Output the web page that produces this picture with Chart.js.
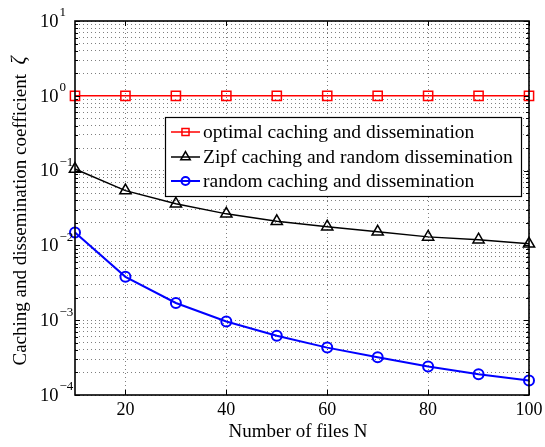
<!DOCTYPE html>
<html>
<head>
<meta charset="utf-8">
<script src="https://cdn.jsdelivr.net/npm/chart.js@4/dist/chart.umd.min.js"></script>
<style>
	html, body { margin: 0; padding: 0; background: #fff; }
	#wrap { width: 545px; height: 447px; position: relative; }
</style>
</head>
<body>
<div id="wrap"><canvas id="chart"></canvas></div>
<script>
// values
const fileCounts = [ 10, 20, 30, 40, 50, 60, 70, 80, 90, 100 ];
const optimalValues = [ 1, 1, 1, 1, 1, 1, 1, 1, 1, 1 ];
const zipfValues = [ 0.105, 0.054, 0.036, 0.0264, 0.021, 0.0178, 0.0152, 0.013, 0.0119, 0.0105 ];
const randomValues = [ 0.0149, 0.0038, 0.0017, 0.00096, 0.00062, 0.00043, 0.00032, 0.00024, 0.00019, 0.000156 ];
const xTickValues = [ 20, 40, 60, 80, 100 ];
const yDecades = [ -4, -3, -2, -1, 0, 1 ];
const seriesLabels = [
	'optimal caching and dissemination',
	'Zipf caching and random dissemination',
	'random caching and dissemination',
];
const xTitle = 'Number of files N';
const yTitle = 'Caching and dissemination coefficient';

const FONT = '"Liberation Serif", "Times New Roman", serif';

const toPoints = ( ys ) => fileCounts.map( ( x, i ) => ( { x, y: ys[ i ] } ) );

// every 1..9 x 10^n position, for the log grid
const yGridValues = [];
yDecades.forEach( ( d ) => {
	for ( let m = 1; m <= 9; m++ ) {
		const v = m * Math.pow( 10, d );
		if ( v <= Math.pow( 10, yDecades[ yDecades.length - 1 ] ) ) {
			yGridValues.push( v );
		}
	}
} );

const series = [
	{ label: seriesLabels[ 0 ], data: toPoints( optimalValues ), color: '#ff0000', style: 'rect', radius: 6.5, legendRadius: 5, width: 1.5 },
	{ label: seriesLabels[ 1 ], data: toPoints( zipfValues ), color: '#000000', style: 'triangle', radius: 6.5, legendRadius: 5.5, width: 1.5 },
	{ label: seriesLabels[ 2 ], data: toPoints( randomValues ), color: '#0000ff', style: 'circle', radius: 5, legendRadius: 4, width: 2 },
];

const axesPlugin = {
	id: 'matlabAxes',
	afterDatasetsDraw( chart ) {
		const { ctx, chartArea: a, scales } = chart;
		const xs = scales.x;
		const ys = scales.y;
		ctx.save();
		ctx.strokeStyle = '#000';
		ctx.lineWidth = 1;

		// inward tick marks
		ctx.beginPath();
		xTickValues.forEach( ( v ) => {
			const px = Math.round( xs.getPixelForValue( v ) ) + 0.5;
			ctx.moveTo( px, a.bottom );
			ctx.lineTo( px, a.bottom - 5 );
			ctx.moveTo( px, a.top );
			ctx.lineTo( px, a.top + 5 );
		} );
		yGridValues.forEach( ( v ) => {
			const py = Math.round( ys.getPixelForValue( v ) ) + 0.5;
			const isMajor = Math.abs( Math.log10( v ) - Math.round( Math.log10( v ) ) ) < 1e-9;
			const len = isMajor ? 5 : 3;
			ctx.moveTo( a.left, py );
			ctx.lineTo( a.left + len, py );
			ctx.moveTo( a.right, py );
			ctx.lineTo( a.right - len, py );
		} );
		ctx.stroke();

		// frame
		ctx.lineWidth = 1.6;
		ctx.strokeRect( a.left, a.top, a.right - a.left, a.bottom - a.top );

		// legend box
		const box = { left: 165, top: 117, right: 521, bottom: 196 };
		ctx.fillStyle = '#fff';
		ctx.fillRect( box.left, box.top, box.right - box.left, box.bottom - box.top );
		ctx.lineWidth = 1.2;
		ctx.strokeStyle = '#000';
		ctx.strokeRect( box.left + 0.5, box.top + 0.5, box.right - box.left, box.bottom - box.top );

		const rowY = [ 132, 157, 181 ];
		ctx.textBaseline = 'middle';
		ctx.textAlign = 'left';
		series.forEach( ( s, i ) => {
			const y = rowY[ i ];
			ctx.strokeStyle = s.color;
			ctx.lineWidth = s.width;
			ctx.beginPath();
			ctx.moveTo( 171, y );
			ctx.lineTo( 200, y );
			ctx.stroke();
			ctx.fillStyle = 'rgba(0,0,0,0)';
			Chart.helpers.drawPoint( ctx, {
				pointStyle: s.style,
				radius: s.legendRadius,
				borderWidth: s.width,
				rotation: 0,
			}, 185.5, y );
			ctx.fillStyle = '#000';
			ctx.font = '19.5px ' + FONT;
			ctx.fillText( s.label, 203, y + 1 );
		} );
		ctx.restore();
	},
	afterDraw( chart ) {
		const { ctx, chartArea: a, scales } = chart;
		ctx.save();
		ctx.fillStyle = '#000';

		// x tick labels
		ctx.font = '18px ' + FONT;
		ctx.textAlign = 'center';
		ctx.textBaseline = 'middle';
		xTickValues.forEach( ( v ) => {
			ctx.fillText( String( v ), scales.x.getPixelForValue( v ), a.bottom + 15 );
		} );

		// y tick labels as 10 with superscript exponent
		yDecades.forEach( ( d ) => {
			const py = scales.y.getPixelForValue( Math.pow( 10, d ) );
			ctx.textAlign = 'left';
			ctx.font = '18.5px ' + FONT;
			ctx.fillText( '10', 40, py + 1 );
			ctx.font = '13px ' + FONT;
			ctx.fillText( d < 0 ? '\u2212' + ( -d ) : String( d ), 59.5, py - 8 );
		} );

		// x title
		ctx.font = '19px ' + FONT;
		ctx.textAlign = 'center';
		ctx.fillText( xTitle, ( a.left + a.right ) / 2 - 4, 432 );

		// y title with italic zeta
		ctx.translate( 21, ( a.top + a.bottom ) / 2 + 3 );
		ctx.rotate( -Math.PI / 2 );
		ctx.font = '19px ' + FONT;
		const w1 = ctx.measureText( yTitle + '  ' ).width;
		ctx.font = 'italic 20px ' + FONT;
		const w2 = ctx.measureText( '\u03b6' ).width;
		const start = -( w1 + w2 ) / 2;
		ctx.textAlign = 'left';
		ctx.font = '19px ' + FONT;
		ctx.fillText( yTitle + '  ', start, 0 );
		ctx.font = 'italic 20px ' + FONT;
		ctx.fillText( '\u03b6', start + w1, -1 );
		ctx.restore();
	},
};

new Chart( document.getElementById( 'chart' ), {
	type: 'line',
	data: {
		datasets: series.map( ( s ) => ( {
			label: s.label,
			data: s.data,
			borderColor: s.color,
			borderWidth: s.width,
			pointStyle: s.style,
			pointRadius: s.radius,
			pointBorderColor: s.color,
			pointBorderWidth: s.width,
			pointBackgroundColor: 'rgba(0,0,0,0)',
			tension: 0,
			fill: false,
			clip: false,
		} ) ),
	},
	options: {
		responsive: true,
		maintainAspectRatio: false,
		devicePixelRatio: 1,
		animation: false,
		events: [],
		layout: { padding: { left: 0, right: 16, top: 21, bottom: 0 } },
		plugins: {
			legend: { display: false },
			tooltip: { enabled: false },
		},
		scales: {
			x: {
				type: 'linear',
				min: 10,
				max: 100,
				afterBuildTicks: ( s ) => {
					s.ticks = xTickValues.map( ( v ) => ( { value: v } ) );
				},
				afterFit: ( s ) => {
					s.height = 52;
				},
				ticks: { display: false },
				grid: { color: 'rgba(0,0,0,0.5)', lineWidth: 1, drawTicks: false },
				border: { display: false, dash: [ 1, 3 ] },
			},
			y: {
				type: 'logarithmic',
				min: 1e-4,
				max: 10,
				afterBuildTicks: ( s ) => {
					s.ticks = yGridValues.map( ( v ) => ( { value: v } ) );
				},
				afterFit: ( s ) => {
					s.width = 75;
				},
				ticks: { display: false, autoSkip: false },
				grid: { color: 'rgba(0,0,0,0.5)', lineWidth: 1, drawTicks: false },
				border: { display: false, dash: [ 1, 3 ] },
			},
		},
	},
	plugins: [ axesPlugin ],
} );
</script>
</body>
</html>
